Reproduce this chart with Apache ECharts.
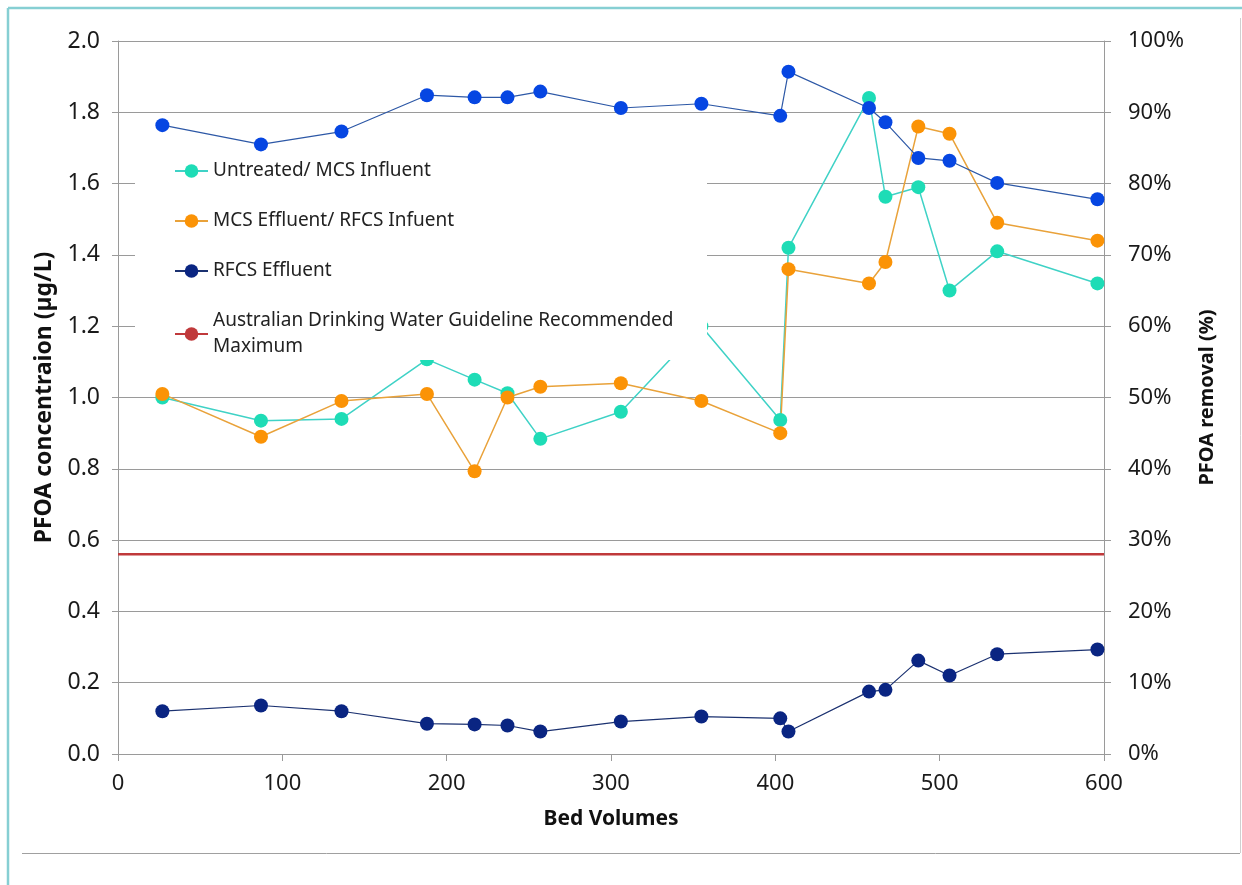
<!DOCTYPE html>
<html>
<head>
<meta charset="utf-8">
<script src="https://cdn.jsdelivr.net/npm/echarts@6/dist/echarts.min.js"></script>
<style>
html,body{margin:0;padding:0;background:#fff;}
#chart{width:1242px;height:885px;}
</style>
</head>
<body>
<div id="chart"></div>
<script>
// ---- data ----
const bedVolumes = [27, 87, 136, 188, 217, 237, 257, 306, 355, 403, 408, 457, 467, 487, 506, 535, 596];
const untreatedInfluent = [1.00, 0.935, 0.94, 1.107, 1.05, 1.012, 0.884, 0.96, 1.20, 0.937, 1.42, 1.84, 1.563, 1.59, 1.30, 1.41, 1.32];
const mcsEffluent = [1.01, 0.89, 0.99, 1.01, 0.793, 1.00, 1.03, 1.04, 0.99, 0.90, 1.36, 1.32, 1.38, 1.76, 1.74, 1.49, 1.44];
const rfcsEffluent = [0.12, 0.136, 0.12, 0.085, 0.083, 0.08, 0.063, 0.091, 0.105, 0.10, 0.063, 0.175, 0.18, 0.262, 0.22, 0.28, 0.293];
const removalPct = [88.2, 85.5, 87.3, 92.4, 92.1, 92.1, 92.9, 90.6, 91.2, 89.5, 95.7, 90.6, 88.6, 83.6, 83.2, 80.1, 77.8];
const guidelineValue = 0.56;
const guidelineRange = [0, 600];

const seriesNames = [
  'Untreated/ MCS Influent',
  'MCS Effluent/ RFCS Infuent',
  'RFCS Effluent',
  'Australian Drinking Water Guideline Recommended\nMaximum'
];
const removalName = 'PFOA removal';

const pair = (xs, ys) => xs.map((x, i) => [x, ys[i]]);
const FONT = 'Noto Sans';

const chart = echarts.init(document.getElementById('chart'));
chart.setOption({
  animation: false,
  backgroundColor: '#ffffff',
  textStyle: { fontFamily: FONT },
  grid: { left: 118, right: 138, top: 41, bottom: 131 },
  legend: {
    data: seriesNames,
    orient: 'vertical',
    left: 135,
    top: 150,
    padding: [8, 0, 0, 39],
    itemGap: 24,
    itemWidth: 33,
    itemHeight: 17,
    backgroundColor: '#ffffff',
    z: 4,
    textStyle: { fontFamily: FONT, fontSize: 19, color: '#222', lineHeight: 26, width: 494 }
  },
  xAxis: {
    type: 'value', min: 0, max: 600, interval: 100,
    name: 'Bed Volumes', nameLocation: 'middle', nameGap: 55,
    nameTextStyle: { fontFamily: FONT, fontSize: 21, fontWeight: 'bold', color: '#111' },
    axisLine: { show: true, lineStyle: { color: '#9a9a9a', width: 1 } },
    axisTick: { show: true, length: 7, lineStyle: { color: '#9a9a9a' } },
    axisLabel: { margin: 19, fontSize: 22, color: '#1a1a1a', fontFamily: FONT },
    splitLine: { show: false }
  },
  yAxis: [
    {
      type: 'value', min: 0, max: 2, interval: 0.2, position: 'left',
      name: 'PFOA concentraion (µg/L)', nameLocation: 'middle', nameGap: 62,
      nameTextStyle: { fontFamily: FONT, fontSize: 23, fontWeight: 'bold', color: '#111' },
      axisLine: { show: true, lineStyle: { color: '#9a9a9a', width: 1 } },
      axisTick: { show: true, length: 6, lineStyle: { color: '#9a9a9a' } },
      axisLabel: { margin: 18, fontSize: 23, color: '#1a1a1a', fontFamily: FONT, formatter: v => v.toFixed(1) },
      splitLine: { show: true, lineStyle: { color: '#9a9a9a', width: 1 } }
    },
    {
      type: 'value', min: 0, max: 100, interval: 10, position: 'right',
      name: 'PFOA removal (%)', nameLocation: 'middle', nameGap: 93,
      nameTextStyle: { fontFamily: FONT, fontSize: 20, fontWeight: 'bold', color: '#111' },
      axisLine: { show: true, lineStyle: { color: '#9a9a9a', width: 1 } },
      axisTick: { show: true, length: 7, lineStyle: { color: '#9a9a9a' } },
      axisLabel: { margin: 24, fontSize: 22, color: '#1a1a1a', fontFamily: FONT, formatter: v => v + '%' },
      splitLine: { show: false }
    }
  ],
  series: [
    {
      name: seriesNames[3], type: 'line', yAxisIndex: 0, z: 2,
      data: guidelineRange.map(x => [x, guidelineValue]),
      symbol: 'none', lineStyle: { color: '#c0393b', width: 2.5 }, itemStyle: { color: '#c0393b' }
    },
    {
      name: removalName, type: 'line', yAxisIndex: 1, z: 5,
      data: pair(bedVolumes, removalPct),
      symbol: 'circle', symbolSize: 14,
      itemStyle: { color: '#0646e2' }, lineStyle: { color: '#2d58a6', width: 1.2 }
    },
    {
      name: seriesNames[0], type: 'line', yAxisIndex: 0, z: 2,
      data: pair(bedVolumes, untreatedInfluent),
      symbol: 'circle', symbolSize: 14,
      itemStyle: { color: '#1edcb6' }, lineStyle: { color: '#3fd2c6', width: 1.5 }
    },
    {
      name: seriesNames[1], type: 'line', yAxisIndex: 0, z: 2,
      data: pair(bedVolumes, mcsEffluent),
      symbol: 'circle', symbolSize: 14,
      itemStyle: { color: '#fb9306' }, lineStyle: { color: '#e9a23a', width: 1.5 }
    },
    {
      name: seriesNames[2], type: 'line', yAxisIndex: 0, z: 2,
      data: pair(bedVolumes, rfcsEffluent),
      symbol: 'circle', symbolSize: 14,
      itemStyle: { color: '#0a2582' }, lineStyle: { color: '#1b3170', width: 1.2 }
    }
  ],
  graphic: [
    { type: 'line', z: 100, shape: { x1: 8, y1: 8, x2: 1242, y2: 8 }, style: { stroke: '#86cfd3', lineWidth: 2.5 } },
    { type: 'line', z: 100, shape: { x1: 8, y1: 8, x2: 8, y2: 885 }, style: { stroke: '#86cfd3', lineWidth: 2.5 } },
    { type: 'line', z: 100, shape: { x1: 22, y1: 853.5, x2: 1240, y2: 853.5 }, style: { stroke: '#a0a0a0', lineWidth: 1 } },
    { type: 'line', z: 100, shape: { x1: 1240.5, y1: 18, x2: 1240.5, y2: 853 }, style: { stroke: '#d0d0d0', lineWidth: 1 } }
  ]
});
</script>
</body>
</html>
